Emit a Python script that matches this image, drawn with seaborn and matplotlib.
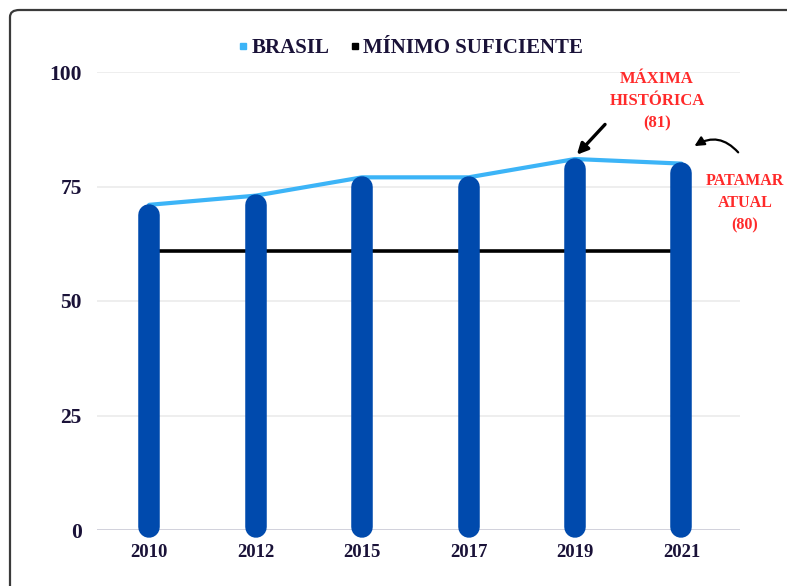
import matplotlib
matplotlib.use("Agg")
import matplotlib.pyplot as plt
import seaborn as sns
import pandas as pd
from matplotlib.patches import FancyBboxPatch
from matplotlib.lines import Line2D

# -----------------------------
# DATA
# -----------------------------
years = ["2010", "2012", "2015", "2017", "2019", "2021"]
brasil = [71, 73, 77, 77, 81, 80]
minimo = [61, 61, 61, 61, 61, 61]
y_ticks = [0, 25, 50, 75, 100]

max_label = "MÁXIMA\nHISTÓRICA\n(81)"
cur_label = "PATAMAR\nATUAL\n(80)"

BAR_BLUE = "#004aad"
LINE_BLUE = "#3cb4f7"
TXT = "#1a1238"
RED = "#ff2a2a"

df = pd.DataFrame({"ano": years, "brasil": brasil, "minimo": minimo})
pos = list(range(len(years)))

sns.set_theme(style="white")
plt.rcParams["font.family"] = ["Liberation Serif", "DejaVu Serif"]

fig = plt.figure(figsize=(7.87, 5.86), dpi=100)
ax = fig.add_axes([97 / 787, 1 - 530 / 586, 643 / 787, 458 / 586])

# rounded outer frame (cut off at right / bottom like the source)
frame = FancyBboxPatch((10 / 787, -0.1), 1.1, 1 - 10 / 586 + 0.1,
                       boxstyle="round,pad=0,rounding_size=0.012",
                       transform=fig.transFigure, fill=False,
                       edgecolor="#3a3a3a", linewidth=1.6, zorder=0)
fig.patches.append(frame)

ax.set_xlim(-0.49, 5.55)
ax.set_ylim(0, 100)

# lines (behind the bars)
sns.lineplot(x=pos, y=df["brasil"], ax=ax, color=LINE_BLUE, linewidth=3,
             sort=False, zorder=2)
sns.lineplot(x=pos, y=df["minimo"], ax=ax, color="black", linewidth=2.6,
             sort=False, zorder=2)

# rounded bars as thick round-capped lines
lw_pt = 15.5
px_per_unit = ax.transData.transform((0, 1))[1] - ax.transData.transform((0, 0))[1]
r = (lw_pt / 2 * fig.dpi / 72) / px_per_unit
bars = ax.vlines(pos, r * 0.3, [v - r * 0.9 for v in brasil],
                 color=BAR_BLUE, linewidth=lw_pt, zorder=3)
bars.set_capstyle("round")
bars.set_clip_on(False)

# grid
for t in y_ticks:
    ax.axhline(t, color="#c9c9d6" if t == 0 else "#ebebeb",
               linewidth=1.2, zorder=1)

ax.set_xticks(pos)
ax.set_xticklabels(years)
ax.set_yticks(y_ticks)
ax.tick_params(axis="both", length=0, labelcolor=TXT)
ax.tick_params(axis="y", pad=11, labelsize=15.5)
ax.tick_params(axis="x", pad=10, labelsize=13.5)
for lab in ax.get_xticklabels() + ax.get_yticklabels():
    lab.set_fontweight("bold")
for s in ax.spines.values():
    s.set_visible(False)
ax.set_xlabel("")
ax.set_ylabel("")

# legend
handles = [
    Line2D([], [], marker="s", linestyle="none", color=LINE_BLUE, markersize=4),
    Line2D([], [], marker="s", linestyle="none", color="black", markersize=4),
]
fig.legend(handles, ["BRASIL", "MÍNIMO SUFICIENTE"], loc="center",
           bbox_to_anchor=(410 / 787, 1 - 48 / 586), ncol=2, frameon=False,
           prop={"family": "Liberation Serif", "weight": "bold", "size": 15},
           labelcolor=TXT, handletextpad=0.1, columnspacing=0.9,
           handlelength=0.6)

# annotations
fig.text(657 / 787, 1 - 101 / 586, max_label, ha="center", va="center",
         color=RED, fontsize=12, fontweight="bold", linespacing=1.5)
fig.text(745 / 787, 1 - 203 / 586, cur_label, ha="center", va="center",
         color=RED, fontsize=11.5, fontweight="bold", linespacing=1.5)

ax.annotate("", xy=(4, 81.5), xytext=(4.3, 89),
            arrowprops=dict(arrowstyle="-|>", color="black", lw=2.4,
                            mutation_scale=16),
            annotation_clip=False)
ax.annotate("", xy=(5.1, 83.5), xytext=(5.55, 82),
            arrowprops=dict(arrowstyle="-|>", color="black", lw=1.6,
                            mutation_scale=14,
                            connectionstyle="arc3,rad=0.45"),
            annotation_clip=False)

fig.savefig("out.png", dpi=100, facecolor="white")
plt.close(fig)
